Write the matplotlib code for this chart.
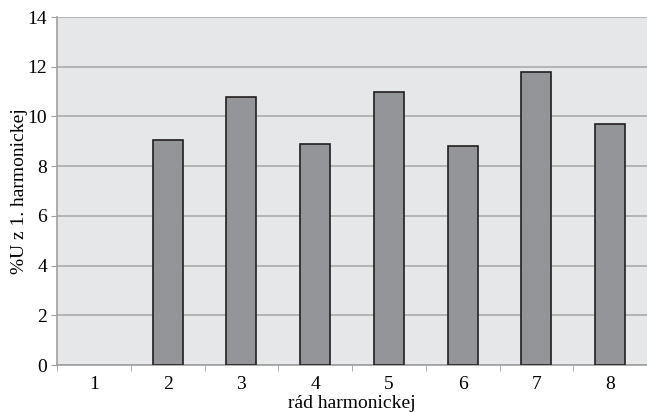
import numpy as np
import matplotlib
matplotlib.use('Agg')
import matplotlib.pyplot as plt

harmonics = ['1', '2', '3', '4', '5', '6', '7', '8']
values = [0, 9.05, 10.8, 8.9, 11.0, 8.8, 11.8, 9.7]

plt.rcParams['font.family'] = ['Liberation Serif', 'DejaVu Serif']

fig = plt.figure(figsize=(6.47, 4.12), dpi=100)
ax = fig.add_axes([57 / 647, 1 - 365 / 412, 590 / 647, 348 / 412])
ax.set_facecolor('#e6e7e9')

x = np.arange(1, len(harmonics) + 1)
# zero-height bar (1st harmonic) has no visible outline in the original
lw = [0 if v == 0 else 1.2 for v in values]
ax.bar(x, values, width=0.41, color='#939598', edgecolor='#231f20', linewidth=lw, zorder=3)

ax.set_xlim(0.5, 8.5)
ax.set_ylim(0, 14)
ax.set_yticks(np.arange(0, 15, 2))
ax.set_xticks(x)
ax.set_xticklabels(harmonics)
ax.set_xticks(np.arange(0.5, 8.6, 1), minor=True)
ax.tick_params(axis='x', which='major', length=0, labelsize=14, pad=8)
ax.tick_params(axis='x', which='minor', length=4, color='#a0a0a0', direction='out')
ax.tick_params(axis='y', length=4, color='#a0a0a0', labelsize=14, pad=3)
ax.yaxis.grid(True, color='#b0b0b0', linewidth=1.3, zorder=1)
ax.set_axisbelow(True)

for s in ['top', 'right']:
    ax.spines[s].set_visible(False)
for s in ['left', 'bottom']:
    ax.spines[s].set_color('#a0a0a0')
    ax.spines[s].set_linewidth(1.2)

ax.set_xlabel('rád harmonickej', fontsize=14, labelpad=1)
ax.set_ylabel('%U z 1. harmonickej', fontsize=14, labelpad=0)

fig.savefig('out.png', dpi=100)
